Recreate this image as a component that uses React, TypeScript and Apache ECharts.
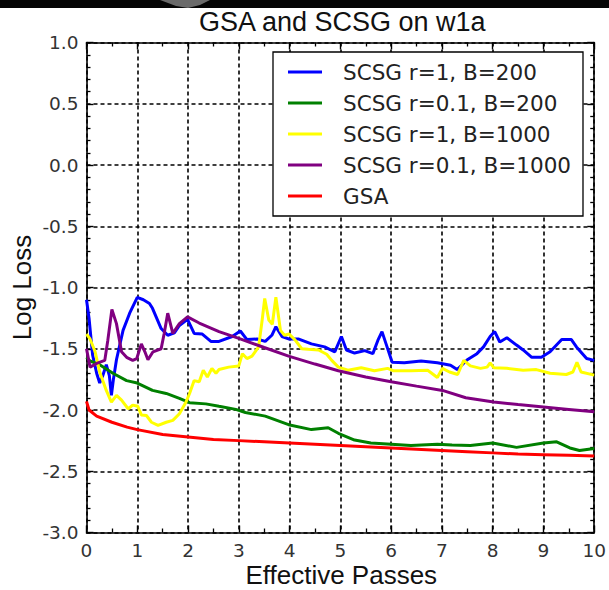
import React, { useEffect, useRef } from "react";
import * as echarts from "echarts";

// Effective passes (x) and log loss (y) for every run
const scsgR1B200Passes = [0, 0.05, 0.12, 0.2, 0.26, 0.32, 0.39, 0.45, 0.49, 0.53, 0.59, 0.72, 0.85, 1.0, 1.12, 1.24, 1.3, 1.47, 1.6, 1.73, 1.83, 1.99, 2.12, 2.28, 2.45, 2.61, 2.87, 3.03, 3.16, 3.36, 3.52, 3.65, 3.73, 3.85, 3.98, 4.17, 4.3, 4.43, 4.69, 4.89, 5.02, 5.12, 5.28, 5.48, 5.64, 5.74, 5.82, 5.9, 6.02, 6.26, 6.59, 6.91, 7.17, 7.3, 7.5, 7.69, 7.82, 7.95, 8.04, 8.14, 8.28, 8.47, 8.6, 8.77, 8.96, 9.13, 9.36, 9.55, 9.65, 9.85, 10];
const scsgR1B200Loss = [-1.1, -1.25, -1.55, -1.7, -1.78, -1.72, -1.63, -1.72, -1.88, -1.75, -1.59, -1.35, -1.21, -1.08, -1.1, -1.13, -1.17, -1.335, -1.39, -1.37, -1.31, -1.26, -1.375, -1.38, -1.44, -1.44, -1.4, -1.355, -1.425, -1.42, -1.44, -1.39, -1.32, -1.4, -1.42, -1.42, -1.44, -1.46, -1.485, -1.525, -1.4, -1.51, -1.535, -1.515, -1.54, -1.43, -1.36, -1.46, -1.61, -1.615, -1.6, -1.615, -1.635, -1.67, -1.59, -1.54, -1.485, -1.4, -1.36, -1.445, -1.41, -1.47, -1.51, -1.57, -1.57, -1.525, -1.425, -1.425, -1.485, -1.58, -1.595];

const scsgR01B200Passes = [0, 0.07, 0.26, 0.52, 0.79, 1.0, 1.3, 1.57, 1.83, 2.03, 2.35, 2.61, 2.94, 3.13, 3.52, 3.98, 4.43, 4.76, 4.96, 5.28, 5.6, 6.0, 6.39, 6.91, 7.2, 7.56, 8.0, 8.47, 9.0, 9.26, 9.52, 9.71, 10];
const scsgR01B200Loss = [-1.57, -1.6, -1.63, -1.7, -1.76, -1.78, -1.84, -1.865, -1.905, -1.94, -1.95, -1.97, -1.995, -2.02, -2.05, -2.12, -2.16, -2.145, -2.19, -2.245, -2.27, -2.28, -2.29, -2.28, -2.285, -2.29, -2.27, -2.305, -2.27, -2.26, -2.31, -2.33, -2.315];

const scsgR1B1000Passes = [0, 0.07, 0.17, 0.26, 0.39, 0.49, 0.59, 0.69, 0.82, 0.91, 1.01, 1.08, 1.18, 1.28, 1.41, 1.57, 1.7, 1.83, 1.96, 2.03, 2.12, 2.22, 2.3, 2.38, 2.47, 2.55, 2.61, 2.8, 3.0, 3.07, 3.16, 3.26, 3.39, 3.46, 3.51, 3.59, 3.66, 3.73, 3.82, 3.9, 3.99, 4.11, 4.24, 4.37, 4.57, 4.73, 4.83, 4.96, 5.15, 5.41, 5.67, 5.93, 6.05, 6.39, 6.72, 6.91, 7.01, 7.15, 7.31, 7.43, 7.56, 7.76, 7.89, 7.95, 8.02, 8.28, 8.6, 8.86, 9.13, 9.45, 9.58, 9.66, 9.74, 10];
const scsgR1B1000Loss = [-1.38, -1.42, -1.525, -1.69, -1.84, -1.935, -1.88, -1.92, -1.99, -1.96, -1.97, -2.04, -2.045, -2.1, -2.125, -2.1, -2.085, -2.03, -1.935, -1.865, -1.76, -1.77, -1.675, -1.73, -1.66, -1.7, -1.67, -1.65, -1.64, -1.54, -1.58, -1.56, -1.485, -1.265, -1.09, -1.265, -1.3, -1.08, -1.35, -1.39, -1.38, -1.43, -1.5, -1.505, -1.51, -1.545, -1.595, -1.65, -1.675, -1.655, -1.68, -1.66, -1.68, -1.68, -1.675, -1.735, -1.66, -1.69, -1.71, -1.595, -1.64, -1.66, -1.65, -1.615, -1.655, -1.66, -1.675, -1.67, -1.7, -1.71, -1.69, -1.61, -1.69, -1.715];

const scsgR01B1000Passes = [0, 0.07, 0.2, 0.36, 0.42, 0.5, 0.59, 0.69, 0.79, 0.91, 0.99, 1.08, 1.15, 1.21, 1.31, 1.47, 1.53, 1.6, 1.7, 1.83, 1.99, 2.22, 2.61, 3.0, 3.5, 3.98, 4.5, 4.96, 5.5, 6.0, 6.5, 7.01, 7.47, 8.02, 8.5, 9.0, 9.5, 10];
const scsgR01B1000Loss = [-1.5, -1.65, -1.62, -1.595, -1.43, -1.18, -1.295, -1.525, -1.57, -1.595, -1.58, -1.46, -1.525, -1.59, -1.525, -1.5, -1.375, -1.21, -1.375, -1.295, -1.24, -1.29, -1.36, -1.415, -1.49, -1.56, -1.625, -1.68, -1.73, -1.77, -1.805, -1.84, -1.9, -1.935, -1.955, -1.975, -1.995, -2.015];

const gsaPasses = [0, 0.05, 0.2, 0.5, 0.8, 1.0, 1.5, 2.0, 2.5, 3.0, 3.5, 4.0, 4.5, 5.0, 5.5, 6.0, 6.5, 7.0, 7.5, 8.0, 8.5, 9.0, 9.5, 10];
const gsaLoss = [-1.93, -2.0, -2.05, -2.1, -2.14, -2.16, -2.2, -2.22, -2.24, -2.25, -2.26, -2.27, -2.28, -2.29, -2.3, -2.31, -2.32, -2.33, -2.34, -2.35, -2.36, -2.365, -2.37, -2.375];

const seriesNames = ["SCSG r=1, B=200", "SCSG r=0.1, B=200", "SCSG r=1, B=1000", "SCSG r=0.1, B=1000", "GSA"];
const seriesColors = ["#0000ff", "#008000", "#ffff00", "#800080", "#ff0000"];
const seriesPasses = [scsgR1B200Passes, scsgR01B200Passes, scsgR1B1000Passes, scsgR01B1000Passes, gsaPasses];
const seriesLoss = [scsgR1B200Loss, scsgR01B200Loss, scsgR1B1000Loss, scsgR01B1000Loss, gsaLoss];

const titleText = "GSA and SCSG on w1a";
const xAxisTitle = "Effective Passes";
const yAxisTitle = "Log Loss";

const GRID = { left: 86.5, top: 42.5, width: 511.5, height: 490 };
const gridDash = [4, 3];

export default function App() {
  const ref = useRef<HTMLDivElement>(null);

  useEffect(() => {
    if (!ref.current) return;
    const chart = echarts.init(ref.current, undefined, { renderer: "svg" });

    const tickFont = { fontFamily: "DejaVu Sans", fontSize: 18.5, color: "#333" };
    const axisBase = {
      type: "value" as const,
      axisLine: { show: true, onZero: false, lineStyle: { color: "#000", width: 1.6 } },
      axisTick: { show: true, inside: true, length: 7, lineStyle: { color: "#000", width: 1.4 } },
      minorTick: { show: true, length: 4, lineStyle: { color: "#000", width: 1.3 } },
    };

    const xBase = { ...axisBase, min: 0, max: 10, interval: 1, minorTick: { ...axisBase.minorTick, splitNumber: 2 } };
    const yBase = { ...axisBase, min: -3, max: 1, interval: 0.5, minorTick: { ...axisBase.minorTick, splitNumber: 5 } };

    chart.setOption({
      animation: false,
      backgroundColor: "#ffffff",
      grid: { ...GRID },
      xAxis: [
        {
          ...xBase,
          position: "bottom",
          axisLabel: { ...tickFont, margin: 8 },
          splitLine: { show: true, lineStyle: { color: "#000", width: 1.6, type: gridDash } },
        },
        { ...xBase, position: "top", axisLabel: { show: false }, splitLine: { show: false } },
      ],
      yAxis: [
        {
          ...yBase,
          position: "left",
          axisLabel: { ...tickFont, margin: 8, formatter: (v: number) => v.toFixed(1) },
          splitLine: { show: true, lineStyle: { color: "#000", width: 1.6, type: gridDash } },
        },
        { ...yBase, position: "right", axisLabel: { show: false }, splitLine: { show: false } },
      ],
      legend: {
        orient: "vertical",
        left: 273,
        top: 52,
        icon: "rect",
        itemWidth: 34,
        itemHeight: 3,
        itemGap: 9,
        padding: [9, 12, 9, 15],
        backgroundColor: "#ffffff",
        borderColor: "#000",
        borderWidth: 1.3,
        borderRadius: 0,
        textStyle: { fontFamily: "DejaVu Sans", fontSize: 21.5, color: "#222", lineHeight: 22, padding: [0, 0, 0, 16] },
        data: seriesNames,
      },
      series: seriesNames.map((name, i) => ({
        name,
        type: "line",
        xAxisIndex: 0,
        yAxisIndex: 0,
        symbol: "none",
        data: seriesPasses[i].map((x, j) => [x, seriesLoss[i][j]]),
        lineStyle: { color: seriesColors[i], width: 3 },
        itemStyle: { color: seriesColors[i] },
      })),
      graphic: [
        { type: "rect", shape: { x: 0, y: 0, width: 609, height: 8 }, style: { fill: "#050505" }, silent: true },
        { type: "polygon", shape: { points: [[160, 0], [210, 0], [200, 5], [188, 8], [176, 6]] }, style: { fill: "#6a6a6a" }, silent: true },
        {
          type: "text",
          x: GRID.left + GRID.width / 2,
          y: 22,
          style: { text: titleText, fontFamily: "Liberation Sans", fontSize: 27, fill: "#111", align: "center", verticalAlign: "middle" },
        },
        {
          type: "text",
          x: GRID.left + GRID.width / 2 - 1,
          y: 575,
          style: { text: xAxisTitle, fontFamily: "Liberation Sans", fontSize: 26, fill: "#111", align: "center", verticalAlign: "middle" },
        },
        {
          type: "text",
          x: 22,
          y: GRID.top + GRID.height / 2,
          rotation: Math.PI / 2,
          style: { text: yAxisTitle, fontFamily: "Liberation Sans", fontSize: 26, fill: "#111", align: "center", verticalAlign: "middle" },
        },
      ],
    });

    return () => chart.dispose();
  }, []);

  return <div ref={ref} style={{ position: "absolute", left: 0, top: 0, width: 609, height: 590 }} />;
}
